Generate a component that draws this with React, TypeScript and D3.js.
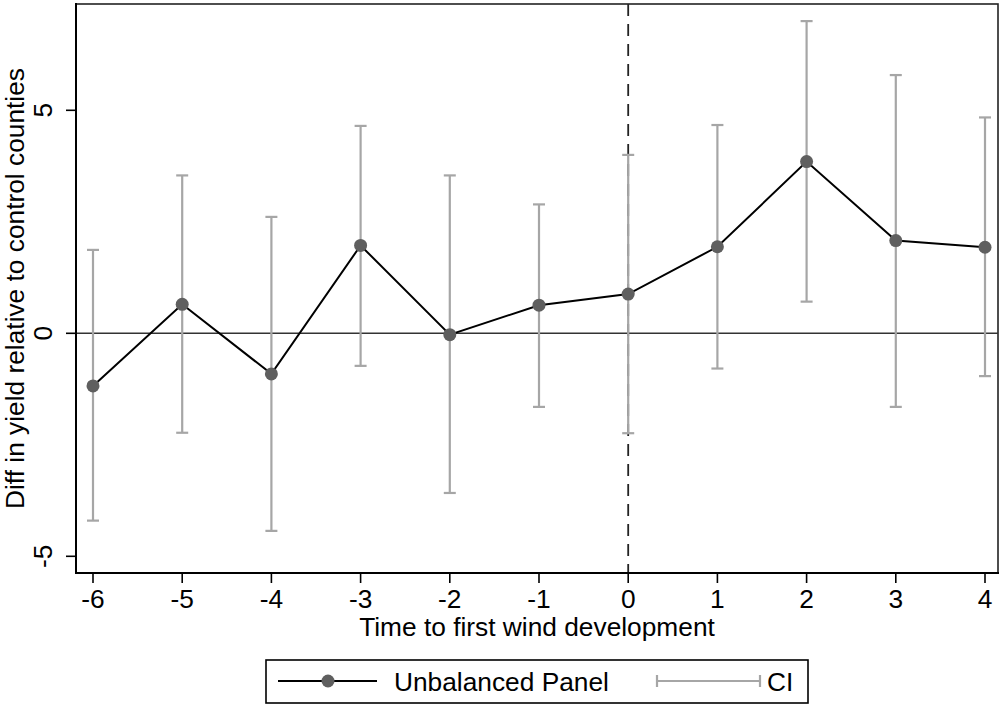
import React from "react";
import * as d3 from "d3";

const periods = [-6, -5, -4, -3, -2, -1, 0, 1, 2, 3, 4];
const estimates = [-1.18, 0.65, -0.91, 1.97, -0.03, 0.63, 0.88, 1.94, 3.85, 2.08, 1.93];
const ciHigh = [1.87, 3.54, 2.61, 4.65, 3.54, 2.89, 4.0, 4.67, 7.0, 5.79, 4.84];
const ciLow = [-4.2, -2.23, -4.43, -0.73, -3.58, -1.65, -2.24, -0.79, 0.71, -1.65, -0.96];
const yTicks = [-5, 0, 5];
const xTitle = "Time to first wind development";
const yTitle = "Diff in yield relative to control counties";
const legendLabels = ["Unbalanced Panel", "CI"];

const W = 999;
const H = 711;
const FONT = "'Liberation Sans', Arial, Helvetica, sans-serif";
const FS = 26.3;

export default function App() {
  const left = 76, right = 998, top = 4, bottom = 573;
  const x = d3.scaleLinear().domain([-6, 4]).range([93, 985]);
  const y = d3.scaleLinear().domain([-5, 5]).range([556.3, 110.3]);
  const line = d3
    .line<number>()
    .x((_, i) => x(periods[i]))
    .y((v) => y(v));
  const capW = 6;
  const ciColor = "#a6a6a6";
  const markerColor = "#5f5f5f";

  return (
    <svg width={W} height={H} style={{ position: "absolute", left: 0, top: 0, background: "#fff" }}>
      <rect x={0} y={0} width={W} height={H} fill="#fff" />
      <rect x={left} y={top} width={right - left} height={bottom - top} fill="none" stroke="#222" strokeWidth={1.6} />
      <line x1={left} x2={right} y1={y(0)} y2={y(0)} stroke="#333" strokeWidth={1.6} />
      <line x1={x(0)} x2={x(0)} y1={top} y2={bottom} stroke="#222" strokeWidth={1.8} strokeDasharray="12 8" />
      {periods.map((p, i) => (
        <g key={"ci" + i} stroke={ciColor} strokeWidth={2.2}>
          <line x1={x(p)} x2={x(p)} y1={y(ciLow[i])} y2={y(ciHigh[i])} />
          <line x1={x(p) - capW} x2={x(p) + capW} y1={y(ciLow[i])} y2={y(ciLow[i])} />
          <line x1={x(p) - capW} x2={x(p) + capW} y1={y(ciHigh[i])} y2={y(ciHigh[i])} />
        </g>
      ))}
      <path d={line(estimates) || ""} fill="none" stroke="#000" strokeWidth={2} />
      {periods.map((p, i) => (
        <circle key={"pt" + i} cx={x(p)} cy={y(estimates[i])} r={6.5} fill={markerColor} />
      ))}
      <line x1={left} x2={left} y1={top - 1} y2={bottom + 1} stroke="#000" strokeWidth={2} />
      <line x1={left - 1} x2={right + 1} y1={bottom} y2={bottom} stroke="#000" strokeWidth={2} />
      {yTicks.map((t) => (
        <g key={"yt" + t}>
          <line x1={left - 10} x2={left} y1={y(t)} y2={y(t)} stroke="#000" strokeWidth={1.6} />
          <text
            transform={`translate(52,${y(t)}) rotate(-90)`}
            textAnchor="middle"
            fontFamily={FONT}
            fontSize={FS}
            fill="#000"
          >
            {t}
          </text>
        </g>
      ))}
      {periods.map((p) => (
        <g key={"xt" + p}>
          <line x1={x(p)} x2={x(p)} y1={bottom} y2={bottom + 10} stroke="#000" strokeWidth={1.6} />
          <text x={x(p)} y={608} textAnchor="middle" fontFamily={FONT} fontSize={FS} fill="#000">
            {p}
          </text>
        </g>
      ))}
      <text x={(left + right) / 2} y={636} textAnchor="middle" fontFamily={FONT} fontSize={FS} fill="#000">
        {xTitle}
      </text>
      <text
        transform={`translate(24,${(top + bottom) / 2}) rotate(-90)`}
        textAnchor="middle"
        fontFamily={FONT}
        fontSize={FS}
        fill="#000"
      >
        {yTitle}
      </text>
      <rect x={266} y={660} width={542} height={43} fill="#fff" stroke="#000" strokeWidth={1.6} />
      <line x1={278} x2={377} y1={681} y2={681} stroke="#000" strokeWidth={2} />
      <circle cx={328} cy={681} r={6.5} fill={markerColor} />
      <text x={394} y={691} fontFamily={FONT} fontSize={FS} fill="#000">
        {legendLabels[0]}
      </text>
      <g stroke={ciColor} strokeWidth={2.2}>
        <line x1={657} x2={760} y1={681} y2={681} />
        <line x1={657} x2={657} y1={675} y2={687} />
        <line x1={760} x2={760} y1={675} y2={687} />
      </g>
      <text x={767} y={691} fontFamily={FONT} fontSize={FS} fill="#000">
        {legendLabels[1]}
      </text>
    </svg>
  );
}
